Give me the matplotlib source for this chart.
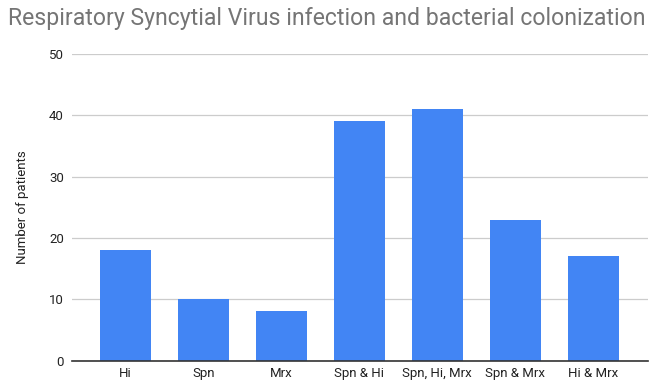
import matplotlib
matplotlib.use("Agg")
import matplotlib.pyplot as plt

categories = ["Hi", "Spn", "Mrx", "Spn & Hi", "Spn, Hi, Mrx", "Spn & Mrx", "Hi & Mrx"]
patients = [18, 10, 8, 39, 41, 23, 17]
y_ticks = [0, 10, 20, 30, 40, 50]

plt.rcParams["font.family"] = ["Roboto", "DejaVu Sans"]

fig = plt.figure(figsize=(6.5, 3.86), dpi=100)
ax = fig.add_axes([0.111, 0.066, 0.886, 0.794])

x = range(len(categories))
ax.bar(x, patients, width=0.65, color="#4285F4", zorder=3)

ax.set_xlim(-0.68, len(categories) - 0.3)
ax.set_ylim(0, 50)
ax.set_yticks(y_ticks)
ax.set_xticks(list(x))
ax.set_xticklabels(categories, fontsize=9.5, color="#222222")
ax.tick_params(axis="y", labelsize=9.5, labelcolor="#222222", length=0, pad=6)
ax.tick_params(axis="x", length=0, pad=5)
ax.grid(axis="y", color="#cccccc", linewidth=0.9, zorder=0)

for side in ["top", "right", "left"]:
    ax.spines[side].set_visible(False)
ax.spines["bottom"].set_color("#333333")
ax.spines["bottom"].set_linewidth(1.2)
ax.spines["bottom"].set_zorder(4)

ax.set_ylabel("Number of patients", fontsize=9.5, color="#222222", labelpad=14)

fig.text(0.012, 0.953, "Respiratory Syncytial Virus infection and bacterial colonization",
         fontsize=16.6, color="#757575", ha="left", va="center")

fig.savefig("out.png", dpi=100)
